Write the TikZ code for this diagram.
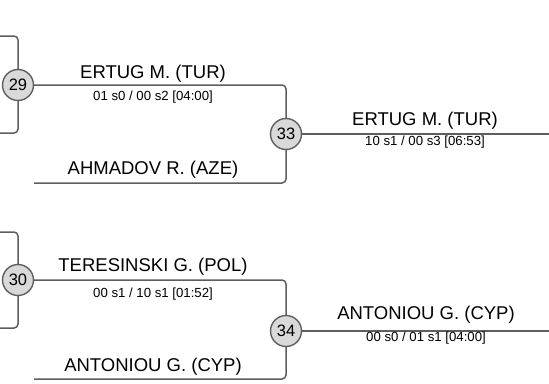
\documentclass[tikz,border=0pt]{standalone}
\usepackage{fontspec}
\setmainfont{Liberation Sans}
\usetikzlibrary{positioning}
\definecolor{linegray}{HTML}{5E5E5E}
\tikzset{
  bout/.style={
    circle,
    draw=linegray,
    line width=1.4pt,
    minimum size=31pt,
    inner sep=0pt,
    top color=gray!30,
    middle color=white,
    bottom color=gray!30,
    font=\fontsize{16.5}{17}\selectfont
  },
  link/.style={
    draw=linegray,
    line width=1.5pt,
    rounded corners=4pt
  },
  player/.style={
    inner sep=0pt,
    font=\fontsize{18.5}{20}\selectfont
  },
  score/.style={
    inner sep=0pt,
    font=\fontsize{13.2}{14}\selectfont
  }
}

\begin{document}
\begin{tikzpicture}[x=1pt, y=-1pt]
    \useasboundingbox (0,0) rectangle (549,383);

    % kampy
    \node[bout] (m29) at (18,85) {29};
    \node[bout] (m33) at (286,134) {33};
    \node[bout] (m30) at (18,280) {30};
    \node[bout] (m34) at (286,331) {34};

    % volne konce
    \coordinate (in29a) at (0,36);
    \coordinate (in29b) at (0,133);
    \coordinate (in33b) at (34,183);
    \coordinate (out33) at (549,134);
    \coordinate (in30a) at (0,232);
    \coordinate (in30b) at (0,328);
    \coordinate (in34b) at (34,379);
    \coordinate (out34) at (549,331);

    % spojnice
    \draw[link] (in29a) -| (m29);
    \draw[link] (in29b) -| (m29);
    \draw[link] (m29) -| (m33);
    \draw[link] (in33b) -| (m33);
    \draw[link] (m33) -- (out33);

    \draw[link] (in30a) -| (m30);
    \draw[link] (in30b) -| (m30);
    \draw[link] (m30) -| (m34);
    \draw[link] (in34b) -| (m34);
    \draw[link] (m34) -- (out34);

    % jmena a vysledky
    \node[player] (p29) at (153,74) {ERTUG M. (TUR)};
    \node[score] (s29) at (153,97) {01 s0 / 00 s2 [04:00]};
    \node[player] (p33b) at (153,170) {AHMADOV R. (AZE)};
    \node[player] (p33) at (425,121) {ERTUG M. (TUR)};
    \node[score] (s33) at (425,142) {10 s1 / 00 s3 [06:53]};

    \node[player] (p30) at (153,267) {TERESINSKI G. (POL)};
    \node[score] (s30) at (153,294) {00 s1 / 10 s1 [01:52]};
    \node[player] (p34b) at (153,367) {ANTONIOU G. (CYP)};
    \node[player] (p34) at (426,315) {ANTONIOU G. (CYP)};
    \node[score] (s34) at (426,338) {00 s0 / 01 s1 [04:00]};
\end{tikzpicture}
\end{document}
